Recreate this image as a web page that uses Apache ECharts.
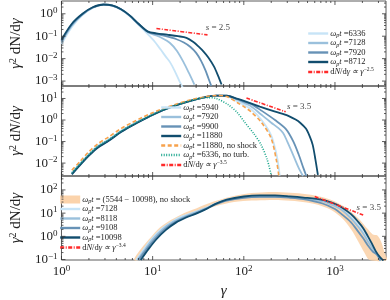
<!DOCTYPE html>
<html><head><meta charset="utf-8">
<script src="https://cdn.jsdelivr.net/npm/echarts@6/dist/echarts.min.js"></script>
<style>html,body{margin:0;padding:0;background:#fff}#c{width:390px;height:300px}</style>
</head><body><div id="c"></div><script>
// ---------- Panel 1 data ----------
const p1G6336 = [1,1.3,1.7,2.2,2.9,3.6,4.5,5.6,7,8.9,10.5,12.2,14,15.5,17.5,19.9,21.5];
const p1Y6336 = [0.045,0.26,0.88,1.8,2.5,2.3,1.55,0.8,0.32,0.12,0.058,0.026,0.012,0.007,0.0028,0.0009,0.0005];
const p1G7128 = [1,1.3,1.7,2.2,2.9,3.6,4.5,5.6,7,8.9,10.5,12.5,15.5,18.5,21.8,25,28.7];
const p1Y7128 = [0.055,0.3,0.92,1.85,2.55,2.32,1.57,0.82,0.34,0.15,0.115,0.085,0.05,0.022,0.007,0.0023,0.0007];
const p1G7920 = [1,1.3,1.7,2.2,2.9,3.6,4.5,5.6,7,8.9,11,14,18,22,26,30,34,38,41,44];
const p1Y7920 = [0.062,0.33,0.95,1.9,2.58,2.33,1.58,0.83,0.35,0.155,0.125,0.1,0.075,0.052,0.033,0.018,0.008,0.003,0.0013,0.0006];
const p1G8712 = [1,1.3,1.7,2.2,2.9,3.6,4.5,5.6,7,8.9,11,14.4,19,23.5,28,32,36,41,47,52,57];
const p1Y8712 = [0.07,0.36,1.0,1.95,2.6,2.35,1.6,0.85,0.36,0.16,0.135,0.117,0.1,0.085,0.055,0.034,0.021,0.011,0.0045,0.0018,0.0007];
const p1RedG = [11,40];
const p1RedY = [0.22,0.115];
// ---------- Panel 2 data ----------
const p2G5940 = [1.3,1.6,2,2.5,3.3,4.5,6,7.5,10,13,17,25,38,50,65,86,102,120,155,199,230,248];
const p2Y5940 = [0.0036,0.0095,0.026,0.062,0.125,0.31,0.62,1.02,1.85,3.0,4.6,7.7,11.8,13.6,12.8,7.2,4.8,3.2,1.05,0.2,0.022,0.0026];
const p2G7920 = [1.3,1.6,2,2.5,3.3,4.5,6,7.5,10,13,17,25,38,50,65,86,102,120,155,200,240,270,300,340,400,446];
const p2Y7920 = [0.0033,0.009,0.024,0.058,0.118,0.295,0.6,0.98,1.8,2.95,4.5,7.6,11.7,13.6,13.2,8.5,6.0,4.4,1.8,0.75,0.42,0.25,0.1,0.03,0.006,0.0025];
const p2G9900 = [1.3,1.6,2,2.5,3.3,4.5,6,7.5,10,13,17,25,38,50,65,86,102,120,155,220,290,350,400,450,485];
const p2Y9900 = [0.0031,0.0085,0.023,0.055,0.113,0.285,0.58,0.95,1.75,2.9,4.45,7.5,11.6,13.6,13.4,9.2,7.0,5.6,2.8,1.0,0.38,0.1,0.025,0.006,0.0025];
const p2G11880 = [1.3,1.6,2,2.5,3.3,4.5,6,7.5,10,13,17,25,38,50,65,86,102,150,200,295,370,415,480,530,570,610,650];
const p2Y11880 = [0.003,0.008,0.022,0.052,0.108,0.275,0.56,0.93,1.72,2.85,4.4,7.4,11.5,13.5,13.4,9.5,7.5,4.2,2.8,1.7,1.05,0.75,0.4,0.17,0.07,0.015,0.0028];
const p2GNoShock = [1.3,1.6,2,2.5,3.3,4.5,6,7.5,10,13,17,25,38,50,65,86,102,120,155,199,230,242];
const p2YNoShock = [0.0047,0.012,0.034,0.078,0.165,0.4,0.78,1.25,2.2,3.4,5.0,8.2,12.2,13.8,12.3,6.2,4.0,2.4,0.8,0.145,0.011,0.0026];
const p2GNoTurb = [1.3,1.6,2,2.5,3.3,4.5,6,7.5,10,13,17,25,32,40,50,68,85,102,130,155,180,200];
const p2YNoTurb = [0.0035,0.0092,0.025,0.06,0.122,0.305,0.61,1.0,1.82,2.95,4.5,7.5,9.8,11,10,5,2.2,0.8,0.22,0.07,0.015,0.0028];
const p2RedG = [107,288];
const p2RedY = [10.5,2.4];
// ---------- Panel 3 data ----------
const p3G7128 = [6.6,8.0,9.7,12.5,16.5,21,30,38,49,65,100,150,220,320,450,730,1000,1180,1500,1800,2050,2300,2600,2900,3200];
const p3Y7128 = [0.095,0.28,0.75,2.1,4.4,7.2,11.5,16.5,26,38,50,54,54,51,45,34,22,15,7,3.2,1.6,0.75,0.3,0.16,0.09];
const p3G8118 = [6.8,8.3,10,13,17,22,30,38,49,65,100,150,220,320,450,730,1000,1180,1500,1800,2050,2300,2600,2900,3150];
const p3Y8118 = [0.095,0.28,0.75,2.1,4.3,7.0,11,16,25,37,48,52,52,49,43,32,20,14,6,2.6,1.3,0.6,0.3,0.17,0.09];
const p3G9108 = [7.0,8.6,10.5,13.5,17.5,23,30,38,49,65,100,150,220,320,450,730,1000,1180,1500,1800,2050,2300,2600,2900,3150];
const p3Y9108 = [0.095,0.28,0.75,2.0,4.0,6.8,10,15,24,35,46,50,50,46,40,26,15,9.1,4.0,1.6,0.8,0.4,0.22,0.16,0.09];
const p3G10098 = [7.4,9,11,14,18,23,30,38,49,65,100,150,220,320,450,730,1000,1180,1500,1800,2050,2300,2500,2800,3100,3400];
const p3Y10098 = [0.095,0.28,0.75,1.9,3.9,6.3,9.5,14.5,25,38,52,58,58,53,47,37,25,18,9,4.2,2.2,1.0,0.55,0.23,0.13,0.09];
const p3BandUpG = [6.2,7.5,9.5,12,16,22,30,45,70,110,170,260,400,600,900,1300,1800,2300,2600,2900,3200,3500,3700];
const p3BandUpY = [0.095,0.3,0.9,2.4,5.2,10,16,30,50,70,80,80,72,58,38,18,6,2,1.2,1.1,0.6,0.2,0.095];
const p3BandLoG = [7.0,8.6,10.5,13.5,17.5,23,30,45,70,110,170,260,400,600,900,1200,1500,1800,2100,2400];
const p3BandLoY = [0.095,0.28,0.75,2.0,4.0,6.8,10,18,28,34,36,36,32,25,14,6,2,0.6,0.2,0.095];
const p3RedG = [600,2040];
const p3RedY = [52,8.3];
// ---------- axes ----------
const xMin = 1, xMax = 3630;
const xMajorTicks = [1,10,100,1000];
const yRanges = [[-3.22,0.57],[-2.6,1.58],[-1.02,2.6]];
const annot = [{g:52,y:0.24,t:'2.5'},{g:405,y:4.0,t:'3.5'},{g:2350,y:17.8,t:'3.5'}];

const C = {l1:'#c7e4f7', l2:'#9ac0dc', l3:'#6792b6', l4:'#114d6e', red:'#ff2a2a', orange:'#f7a24c', teal:'#18a58a', band:'#fbd3ab'};
const FONT = 'Liberation Serif';

function zip(a,b){return a.map((v,i)=>[v,b[i]]);}
function lineSeries(name, gi, G, Y, color, width, type){
  return {type:'line', name, xAxisIndex:gi, yAxisIndex:gi, data:zip(G,Y), symbol:'none', showSymbol:false,
    lineStyle:{color, width, type: type||'solid'}, itemStyle:{color}, smooth:0.3, z:3, animation:false, silent:true};
}
const redDash = [4,1.5,1,1.5];

function minorList(lo, hi){
  const out=[];
  for(let e=Math.floor(lo)-1;e<=Math.ceil(hi)+1;e++){
    for(let m=2;m<=9;m++){const v=m*Math.pow(10,e); const lv=Math.log10(v); if(lv>lo&&lv<hi) out.push(v);}
  }
  return out;
}
function majorList(lo,hi){const o=[];for(let e=Math.ceil(lo);e<=Math.floor(hi);e++)o.push(Math.pow(10,e));return o;}

function tickSeries(gi){
  const yr = yRanges[gi];
  const xMin_ = minorList(0, Math.log10(xMax));
  const yMaj = majorList(yr[0], yr[1]);
  const yMinr = minorList(yr[0], yr[1]);
  const yMid = Math.pow(10,(yr[0]+yr[1])/2);
  return {type:'custom', xAxisIndex:gi, yAxisIndex:gi, data:[[10,yMid]], silent:true, z:5, animation:false,
    renderItem:function(params, api){
      const cs = params.coordSys; const ch=[]; const st={stroke:'#333', lineWidth:0.8};
      const yb = cs.y+cs.height, yt = cs.y, xl = cs.x, xr = cs.x+cs.width;
      const addX=(v,len)=>{const px=api.coord([v,yMid])[0];
        ch.push({type:'line',shape:{x1:px,y1:yb,x2:px,y2:yb-len},style:st});
        ch.push({type:'line',shape:{x1:px,y1:yt,x2:px,y2:yt+len},style:st});};
      const addY=(v,len)=>{const py=api.coord([10,v])[1];
        ch.push({type:'line',shape:{x1:xl,y1:py,x2:xl+len,y2:py},style:st});
        ch.push({type:'line',shape:{x1:xr,y1:py,x2:xr-len,y2:py},style:st});};
      xMajorTicks.forEach(v=>addX(v,4)); xMin_.forEach(v=>addX(v,2));
      yMaj.forEach(v=>addY(v,4)); yMinr.forEach(v=>addY(v,2));
      return {type:'group', children:ch};
    }};
}

function bandSeries(gi){
  return {type:'custom', name:'p3band', xAxisIndex:gi, yAxisIndex:gi, data:zip(p3BandUpG,p3BandUpY), silent:true, z:1, animation:false,
    itemStyle:{color:C.band},
    renderItem:function(params, api){
      if(params.dataIndex!==0) return;
      const pts=[];
      p3BandUpG.forEach((g,i)=>pts.push(api.coord([g,p3BandUpY[i]])));
      for(let i=p3BandLoG.length-1;i>=0;i--) pts.push(api.coord([p3BandLoG[i],p3BandLoY[i]]));
      return {type:'polygon', shape:{points:pts, smooth:0.3}, style:{fill:C.band, opacity:0.9}};
    }};
}

function supFmt(v){
  const l=Math.log10(v), e=Math.round(l);
  if(Math.abs(l-e)>1e-6) return '';
  return '{b|10}{s|'+String(e).replace('-','−')+'}';
}
const tickRich = {b:{fontFamily:FONT,fontSize:13,color:'#222'}, s:{fontFamily:FONT,fontSize:9,color:'#222',verticalAlign:'top',padding:[0,0,6,0]}};

const grids = [{left:51,right:4,top:1,height:85},{left:51,right:4,top:86,height:90},{left:51,right:4,top:176,height:86}]
  .map(g=>Object.assign({show:true,borderColor:'#333',borderWidth:0.8,backgroundColor:'transparent',containLabel:false},g));

const xAxes = [0,1,2].map(i=>({type:'log', logBase:10, gridIndex:i, min:xMin, max:xMax,
  axisLine:{show:false}, axisTick:{show:false}, splitLine:{show:false}, minorTick:{show:false},
  axisLabel:{show:i===2, formatter:supFmt, rich:tickRich, margin:4},
  name: i===2?'{g|γ}':'', nameLocation:'middle', nameGap:24, nameTextStyle:{rich:{g:{fontFamily:FONT,fontStyle:'italic',fontSize:15,color:'#222'}}}}));

const yName = (italN)=>'{g|γ}{s|2}{n| d}'+(italN?'{i|N}':'{n|N}')+'{n|/d}{g|γ}';
const NS = 15;
const nameRich = {g:{fontFamily:FONT,fontStyle:'italic',fontSize:NS,color:'#222'}, n:{fontFamily:FONT,fontSize:NS,color:'#222'}, i:{fontFamily:FONT,fontStyle:'italic',fontSize:NS,color:'#222'}, s:{fontFamily:FONT,fontSize:10,color:'#222',verticalAlign:'top',padding:[0,0,7,0]}};
const yAxes = [0,1,2].map(i=>({type:'log', logBase:10, gridIndex:i, min:Math.pow(10,yRanges[i][0]), max:Math.pow(10,yRanges[i][1]),
  axisLine:{show:false}, axisTick:{show:false}, splitLine:{show:false}, minorTick:{show:false},
  axisLabel:{formatter:supFmt, rich:tickRich, margin:4, showMinLabel:true, showMaxLabel:true},
  name:yName(i===1), nameLocation:'middle', nameGap:24, nameRotate:90, nameTextStyle:{rich:nameRich}}));

const LW = 1.8;
const series = [
  lineSeries('a6336',0,p1G6336,p1Y6336,C.l1,LW),
  lineSeries('a7128',0,p1G7128,p1Y7128,C.l2,LW),
  lineSeries('a7920',0,p1G7920,p1Y7920,C.l3,LW),
  lineSeries('a8712',0,p1G8712,p1Y8712,C.l4,LW),
  lineSeries('ared',0,p1RedG,p1RedY,C.red,1.6,redDash),
  lineSeries('b5940',1,p2G5940,p2Y5940,C.l1,LW),
  lineSeries('b7920',1,p2G7920,p2Y7920,C.l2,LW),
  lineSeries('b9900',1,p2G9900,p2Y9900,C.l3,LW),
  lineSeries('b11880',1,p2G11880,p2Y11880,C.l4,LW),
  lineSeries('bnoshock',1,p2GNoShock,p2YNoShock,C.orange,1.6,[4,2.5]),
  lineSeries('bnoturb',1,p2GNoTurb,p2YNoTurb,C.teal,1.6,[1,1.5]),
  lineSeries('bred',1,p2RedG,p2RedY,C.red,1.6,redDash),
  bandSeries(2),
  lineSeries('c7128',2,p3G7128,p3Y7128,C.l1,LW),
  lineSeries('c8118',2,p3G8118,p3Y8118,C.l2,LW),
  lineSeries('c9108',2,p3G9108,p3Y9108,C.l3,LW),
  lineSeries('c10098',2,p3G10098,p3Y10098,C.l4,LW),
  lineSeries('cred',2,p3RedG,p3RedY,C.red,1.6,redDash),
  tickSeries(0), tickSeries(1), tickSeries(2)
];
annot.forEach((a,i)=>series.push({type:'scatter', xAxisIndex:i, yAxisIndex:i, symbolSize:0, data:[[a.g,a.y]], silent:true, animation:false,
  label:{show:true, position:'inside', formatter:'{i|s}{n| = '+a.t+'}', rich:{i:{fontFamily:FONT,fontStyle:'italic',fontSize:9,color:'#111'}, n:{fontFamily:FONT,fontSize:9,color:'#111'}}}}));

const labels = {
  a6336:'6336', a7128:'7128', a7920:'7920', a8712:'8712',
  b5940:'5940', b7920:'7920', b9900:'9900', b11880:'11880', bnoshock:'11880, no shock', bnoturb:'6336, no turb.',
  c7128:'7128', c8118:'8118', c9108:'9108', c10098:'10098', p3band:' (5544 − 10098), no shock'
};
const reds = {ared:'−2.5', bred:'−3.5', cred:'−3.4'};
function legFmt(name){
  if(reds[name]) return '{n|d}{i|N}{n|/d}{i|γ ∝ γ}{sup|'+reds[name]+'}';
  return '{i|ω}{sub|p}{i|t}{n| ='+labels[name]+'}';
}
const legRich = {
  n:{fontFamily:FONT,fontSize:8.5,color:'#222',lineHeight:10},
  i:{fontFamily:FONT,fontSize:8.5,fontStyle:'italic',color:'#222',lineHeight:10},
  sub:{fontFamily:FONT,fontSize:6,fontStyle:'italic',color:'#222',verticalAlign:'bottom',lineHeight:10},
  sup:{fontFamily:FONT,fontSize:5.5,color:'#222',verticalAlign:'top',lineHeight:10}
};
function legend(data, left, top){
  return {show:true, orient:'vertical', left, top, data, itemWidth:20, itemHeight:8, itemGap:0, padding:0,
    selectedMode:false, formatter:legFmt, textStyle:{rich:legRich, padding:[0,0,0,-3]},
    itemStyle:{opacity:0}, lineStyle:{width:2.4}};
}
const option = {
  animation:false, backgroundColor:'#fff',
  grid:grids, xAxis:xAxes, yAxis:yAxes,
  legend:[
    legend(['a6336','a7128','a7920','a8712','ared'], 307, 29),
    legend(['b5940','b7920','b9900','b11880','bnoshock','bnoturb','bred'], 160, 103),
    legend([{name:'p3band',icon:'rect',itemStyle:{opacity:1,color:C.band}},'c7128','c8118','c9108','c10098','cred'], 59, 195)
  ],
  series
};
const chart = echarts.init(document.getElementById('c'), null, {renderer:'canvas'});
chart.setOption(option);
</script></body></html>
